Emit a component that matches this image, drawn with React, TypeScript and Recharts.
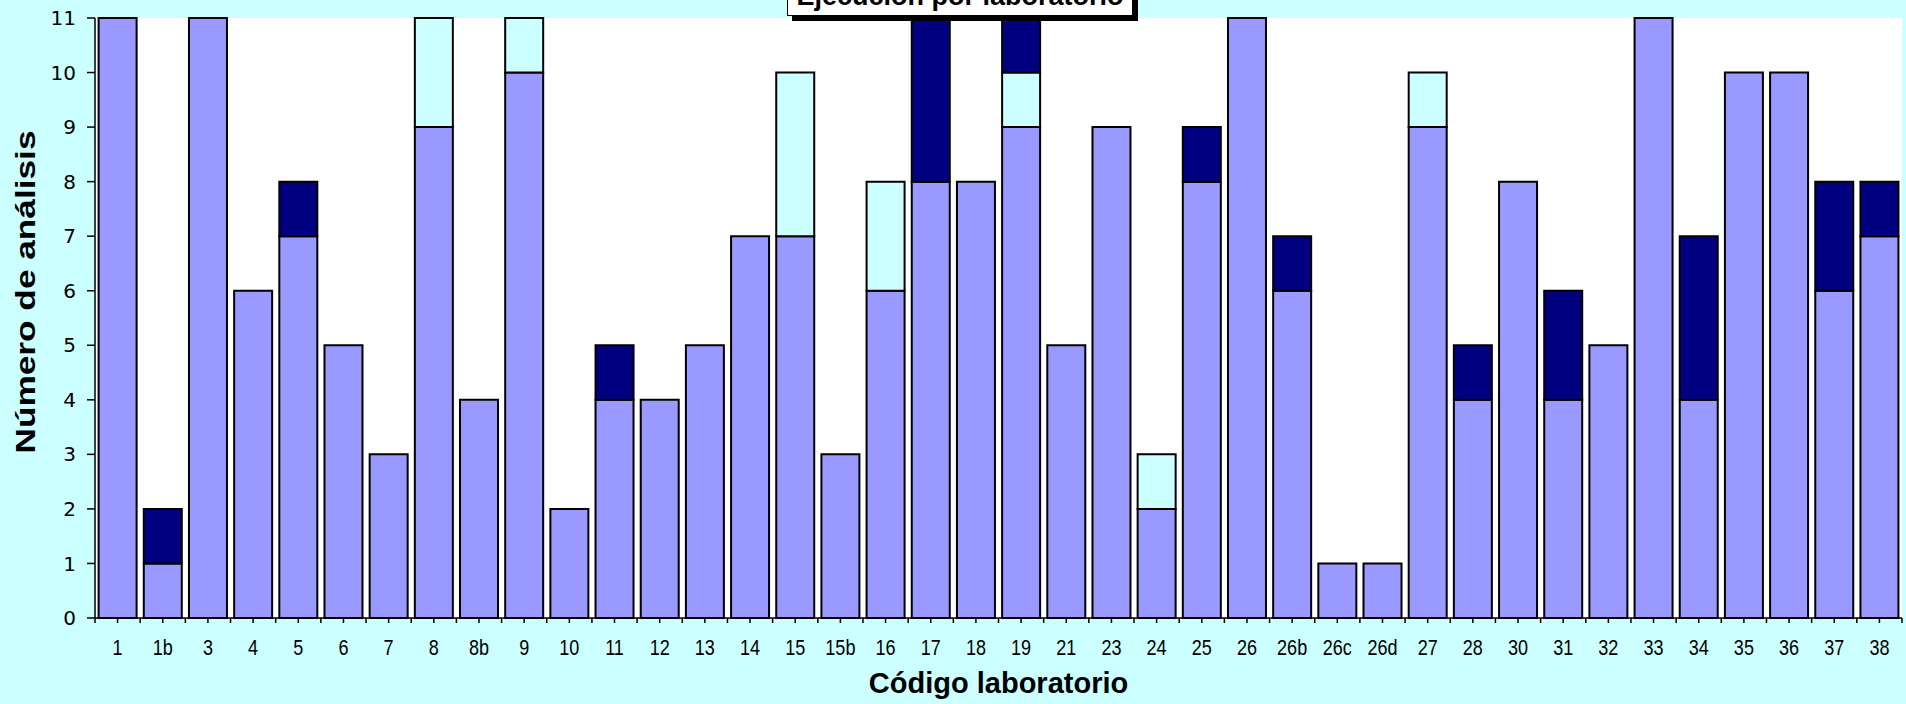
import React from 'react';
import { BarChart, Bar, XAxis, YAxis, CartesianGrid, Label } from 'recharts';

const labs = [
  '1', '1b', '3', '4', '5', '6', '7', '8', '8b', '9',
  '10', '11', '12', '13', '14', '15', '15b', '16', '17', '18',
  '19', '21', '23', '24', '25', '26', '26b', '26c', '26d', '27',
  '28', '30', '31', '32', '33', '34', '35', '36', '37', '38',
];
const realizados = [
  11, 1, 11, 6, 7, 5, 3, 9, 4, 10,
  2, 4, 4, 5, 7, 7, 3, 6, 8, 8,
  9, 5, 9, 2, 8, 11, 6, 1, 1, 9,
  4, 8, 4, 5, 11, 4, 10, 10, 6, 7,
];
const pendientes = [
  0, 0, 0, 0, 0, 0, 0, 2, 0, 1,
  0, 0, 0, 0, 0, 3, 0, 2, 0, 0,
  1, 0, 0, 1, 0, 0, 0, 0, 0, 1,
  0, 0, 0, 0, 0, 0, 0, 0, 0, 0,
];
const otros = [
  0, 1, 0, 0, 1, 0, 0, 0, 0, 0,
  0, 1, 0, 0, 0, 0, 0, 0, 3, 0,
  1, 0, 0, 0, 1, 0, 1, 0, 0, 0,
  1, 0, 2, 0, 0, 3, 0, 0, 2, 1,
];
const yTicks = [0, 1, 2, 3, 4, 5, 6, 7, 8, 9, 10, 11];

const data = labs.map((lab, i) => ({
  lab,
  realizados: realizados[i],
  pendientes: pendientes[i],
  otros: otros[i],
}));

const W = 1906;
const H = 704;
const Y_AXIS_W = 95;
const RIGHT = 4;
const STEP = (W - Y_AXIS_W - RIGHT) / labs.length;

// category labels (condensed), plus the tick marks at the category boundaries
const XTick = (props: any) => {
  const { x, y, payload, index } = props;
  const axisY = y - 7;
  const edge = (xx: number) => (
    <line x1={xx} x2={xx} y1={axisY} y2={axisY + 5} stroke="#000" strokeWidth={1.5} />
  );
  return (
    <g>
      {edge(x - STEP / 2)}
      {index === labs.length - 1 && edge(x + STEP / 2)}
      <text
        transform={`translate(${x} ${axisY + 37}) scale(0.82 1)`}
        x={0}
        y={0}
        textAnchor="middle"
        fill="#000"
        fontSize={22}
        fontFamily="'Liberation Sans Narrow', 'Liberation Sans', Arial, sans-serif"
      >
        {payload.value}
      </text>
    </g>
  );
};

const App = () => {
  return (
    <div style={{ position: 'relative', width: W, height: H, background: '#CCFFFF', overflow: 'hidden' }}>
      <style>{'body{margin:0}'}</style>
      <BarChart
        width={W}
        height={H}
        data={data}
        margin={{ top: 18, right: RIGHT, left: 0, bottom: 0 }}
        barCategoryGap="8%"
      >
        <CartesianGrid fill="#ffffff" horizontal={false} vertical={false} />
        <XAxis
          dataKey="lab"
          height={86}
          interval={0}
          tickSize={5}
          tick={<XTick />}
          axisLine={{ stroke: '#000', strokeWidth: 1.5 }}
          tickLine={{ stroke: '#000', strokeWidth: 1.5 }}
        >
          <Label
            content={() => (
              <text
                x={(Y_AXIS_W + W - RIGHT) / 2}
                y={693}
                textAnchor="middle"
                fontSize={29}
                fontWeight="bold"
                fontFamily="'Liberation Sans', Arial, sans-serif"
                fill="#000"
              >
                Código laboratorio
              </text>
            )}
          />
        </XAxis>
        <YAxis
          width={Y_AXIS_W}
          domain={[0, 11]}
          ticks={yTicks}
          interval={0}
          tickSize={8}
          tickMargin={11}
          tick={{ fill: '#000', fontSize: 20, fontFamily: "'DejaVu Sans', Verdana, sans-serif" }}
          axisLine={{ stroke: '#000', strokeWidth: 1.5 }}
          tickLine={{ stroke: '#000', strokeWidth: 1.5 }}
        >
          <Label
            content={() => (
              <text
                x={35}
                y={292}
                transform="rotate(-90 35 292)"
                textAnchor="middle"
                fontSize={27}
                fontWeight="bold"
                fontFamily="'Liberation Sans', Arial, sans-serif"
                fill="#000"
                textLength={323}
                lengthAdjust="spacingAndGlyphs"
              >
                Número de análisis
              </text>
            )}
          />
        </YAxis>
        <Bar dataKey="realizados" name="Realizados" stackId="s" fill="#9999FF" stroke="#000" strokeWidth={2} isAnimationActive={false} />
        <Bar dataKey="pendientes" name="Pendientes" stackId="s" fill="#CCFFFF" stroke="#000" strokeWidth={2} isAnimationActive={false} />
        <Bar dataKey="otros" name="Otros" stackId="s" fill="#000080" stroke="#000" strokeWidth={2} isAnimationActive={false} />
      </BarChart>
      <div
        style={{
          position: 'absolute',
          left: 787,
          top: -24,
          width: 346,
          height: 40,
          boxSizing: 'border-box',
          background: '#fff',
          border: '1.5px solid #000',
          boxShadow: '5px 5px 0 #000',
          textAlign: 'center',
          lineHeight: '38px',
          fontFamily: "'Liberation Sans', Arial, sans-serif",
          fontWeight: 'bold',
          fontSize: 27,
          color: '#000',
        }}
      >
        Ejecución por laboratorio
      </div>
    </div>
  );
};

export default App;
